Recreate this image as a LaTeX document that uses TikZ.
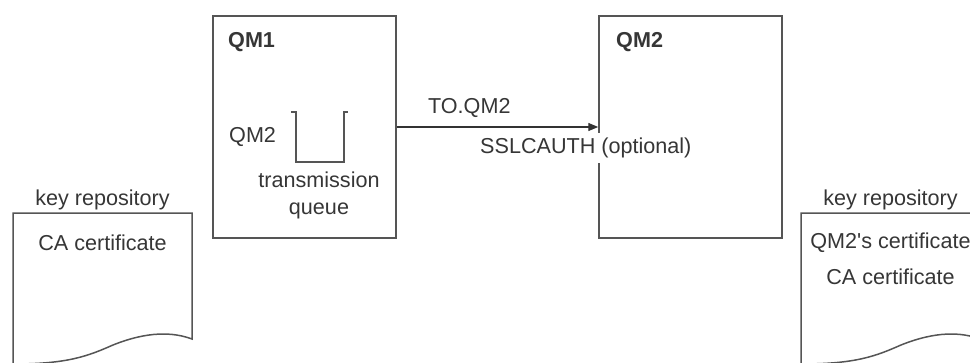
\documentclass[tikz,border=0pt]{standalone}
\usepackage{fontspec}
\setmainfont{Liberation Sans}
\usetikzlibrary{arrows.meta}
\definecolor{txt}{HTML}{363636}
\definecolor{ln}{HTML}{555555}
\definecolor{arr}{HTML}{333333}
\tikzset{
  lbl/.style={text=txt, inner sep=0pt, font=\fontsize{21.6}{27}\selectfont},
  boldlbl/.style={lbl, font=\fontsize{21.6}{27}\selectfont\bfseries},
  qmbox/.style={draw=ln, line width=1.5pt, minimum width=183pt, minimum height=222pt, inner sep=0pt},
  docline/.style={draw=ln, line width=1.5pt, fill=white},
  conn/.style={draw=arr, line width=1.3pt, -{Triangle[length=10pt,width=8pt]}},
}
\begin{document}
\begin{tikzpicture}[x=1pt,y=-1pt]
\useasboundingbox (0,0) rectangle (970,362);
\clip (0,0) rectangle (970,362);
% boxes
\node[qmbox] (qm1) at (304.5,127) {};
\node[qmbox] (qm2) at (690.5,127) {};
\node[boldlbl, anchor=west] (qm1t) at (228,42) {QM1};
\node[boldlbl, anchor=west] (qm2t) at (616,42) {QM2};
% queue
\draw[ln, line width=1.5pt] (291,112) -- (296,112) -- (296,162) -- (344,162) -- (344,112) -- (348,112);
\node[lbl, anchor=west] (qname) at (229,137) {QM2};
\node[lbl, align=center] (tq) at (319,195.5) {transmission\\queue};
% channel
\draw[conn] (qm1.east) -- (qm2.west) node[lbl, pos=0.36, above=9pt] (ch) {TO.QM2};
\node[lbl, anchor=west, fill=white, inner ysep=5pt, inner xsep=1pt] (ssl) at (479,148) {SSLCAUTH (optional)};
% left key repository
\begin{scope}[shift={(13,213)}]
\draw[docline] (0,0) -- (179,0) -- (179,126) .. controls (160,119) and (135,118) .. (100,132) .. controls (75,143) and (55,151) .. (0,151) -- cycle;
\end{scope}
\node[lbl] (kr1) at (102.5,200) {key repository};
\node[lbl] (ca1) at (102.5,243) {CA certificate};
% right key repository
\begin{scope}[shift={(801,213)}]
\draw[docline] (0,0) -- (179,0) -- (179,126) .. controls (160,119) and (135,118) .. (100,132) .. controls (75,143) and (55,151) .. (0,151) -- cycle;
\end{scope}
\node[lbl] (kr2) at (890.5,200) {key repository};
\node[lbl] (qc2) at (890.5,243) {QM2\textquotesingle s certificate};
\node[lbl] (ca2) at (890.5,277) {CA certificate};
\end{tikzpicture}
\end{document}
